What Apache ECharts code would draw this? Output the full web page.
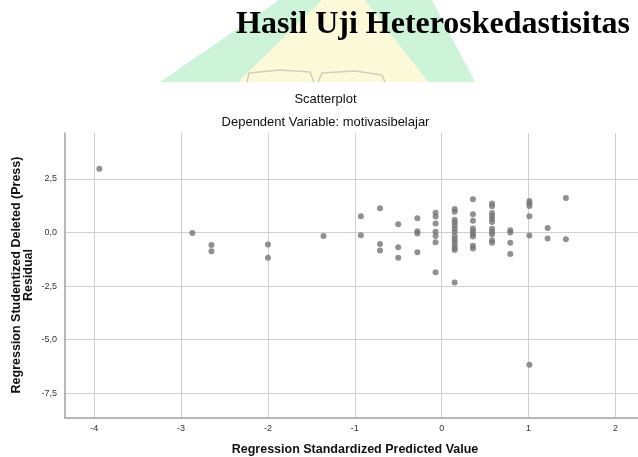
<!DOCTYPE html>
<html lang="id">
<head>
    <meta charset="UTF-8">
    <title>Hasil Uji Heteroskedastisitas</title>
    <style>
        html, body { margin: 0; padding: 0; background: #fff; }
        #chart { width: 638px; height: 457px; }
    </style>
</head>
<body>
    <div id="chart"></div>
    <script src="https://cdn.jsdelivr.net/npm/echarts@6/dist/echarts.min.js"></script>
    <script>
        // nilai prediksi terstandar (sumbu x) dan residual studentized deleted (sumbu y)
        var predicted = [
            -3.94, -2.87, -2.65, -2.65, -2.00, -2.00, -1.36,
            -0.93, -0.93, -0.71, -0.71, -0.71,
            -0.50, -0.50, -0.50,
            -0.28, -0.28, -0.28, -0.28,
            -0.07, -0.07, -0.07, -0.07, -0.07, -0.07, -0.07,
            0.15, 0.15, 0.15, 0.15, 0.15, 0.15, 0.15, 0.15, 0.15, 0.15, 0.15, 0.15, 0.15, 0.15,
            0.36, 0.36, 0.36, 0.36, 0.36, 0.36, 0.36, 0.36, 0.36,
            0.58, 0.58, 0.58, 0.58, 0.58, 0.58, 0.58, 0.58, 0.58, 0.58, 0.58,
            0.79, 0.79, 0.79, 0.79,
            1.01, 1.01, 1.01, 1.01, 1.01, 1.01,
            1.22, 1.22,
            1.43, 1.43
        ];
        var residual = [
            2.98, -0.02, -0.58, -0.88, -0.56, -1.18, -0.16,
            0.76, -0.13, 1.13, -0.54, -0.84,
            0.39, -0.69, -1.18,
            0.66, 0.06, -0.05, -0.92,
            0.92, 0.75, 0.42, 0.03, -0.16, -0.46, -1.86,
            1.10, 0.97, 0.60, 0.48, 0.34, 0.19, 0.03, -0.16, -0.31, -0.44, -0.59, -0.72, -0.82, -2.34,
            1.55, 0.85, 0.55, 0.19, 0.05, -0.08, -0.19, -0.62, -0.75,
            1.35, 1.22, 0.91, 0.77, 0.63, 0.49, 0.17, 0.03, -0.08, -0.36, -0.48,
            0.11, 0.00, -0.48, -1.00,
            1.47, 1.35, 1.24, 0.76, -0.14, -6.17,
            0.21, -0.28,
            1.61, -0.31
        ];
        var xTicks = [-4, -3, -2, -1, 0, 1, 2];
        var yTicks = [-7.5, -5, -2.5, 0, 2.5];

        var points = predicted.map(function (x, i) { return [x, residual[i]]; });

        var chart = echarts.init(document.getElementById('chart'));
        var sans = '"Liberation Sans", Arial, sans-serif';

        chart.setOption({
            animation: false,
            backgroundColor: '#fff',
            grid: { left: 65, top: 133, right: 0, bottom: 39, containLabel: false, outerBoundsMode: 'none' },
            xAxis: {
                type: 'value',
                min: -4.336,
                max: 2.26,
                axisLine: { show: true, onZero: false, lineStyle: { color: '#a0a0a0', width: 1.5 } },
                axisTick: { show: false, customValues: xTicks },
                axisLabel: {
                    customValues: xTicks,
                    margin: 6,
                    fontSize: 9,
                    color: '#333',
                    fontFamily: sans
                },
                splitLine: { show: true, lineStyle: { color: '#cfcfcf', width: 1 } }
            },
            yAxis: {
                type: 'value',
                min: -8.66,
                max: 4.645,
                axisLine: { show: true, onZero: false, lineStyle: { color: '#a0a0a0', width: 1.5 } },
                axisTick: { show: false, customValues: yTicks },
                axisLabel: {
                    customValues: yTicks,
                    margin: 8,
                    fontSize: 9,
                    color: '#333',
                    fontFamily: sans,
                    formatter: function (v) { return v.toFixed(1).replace('.', ','); }
                },
                splitLine: { show: true, lineStyle: { color: '#cfcfcf', width: 1 } }
            },
            series: [{
                type: 'scatter',
                data: points,
                symbolSize: 6,
                itemStyle: { color: '#767676' },
                silent: true
            }],
            graphic: [
                // watermark logo di belakang judul
                {
                    type: 'polygon', z: -10, silent: true,
                    shape: { points: [[160, 82], [279, 0], [432, 0], [475, 82]] },
                    style: { fill: '#cdf3d8' }
                },
                {
                    type: 'polygon', z: -9, silent: true,
                    shape: { points: [[238, 82], [322, 0], [365, 0], [428, 82]] },
                    style: { fill: '#fcf9d8' }
                },
                {
                    type: 'polyline', z: -8, silent: true,
                    shape: { points: [[247, 82], [249, 73], [280, 70], [310, 72], [314, 82]] },
                    style: { stroke: '#cfcfc0', lineWidth: 1.5, fill: null }
                },
                {
                    type: 'polyline', z: -8, silent: true,
                    shape: { points: [[318, 82], [322, 73], [355, 71], [382, 75], [385, 82]] },
                    style: { stroke: '#cfcfc0', lineWidth: 1.5, fill: null }
                },
                {
                    type: 'text', silent: true,
                    x: 236, y: 25,
                    style: {
                        text: 'Hasil Uji Heteroskedastisitas',
                        font: 'bold 32px "Liberation Serif", "Times New Roman", serif',
                        fill: '#000',
                        align: 'left',
                        verticalAlign: 'middle'
                    }
                },
                {
                    type: 'text', silent: true,
                    x: 325.5, y: 99,
                    style: {
                        text: 'Scatterplot',
                        font: '13px ' + sans,
                        fill: '#111',
                        align: 'center',
                        verticalAlign: 'middle'
                    }
                },
                {
                    type: 'text', silent: true,
                    x: 325.5, y: 122.5,
                    style: {
                        text: 'Dependent Variable: motivasibelajar',
                        font: '13px ' + sans,
                        fill: '#111',
                        align: 'center',
                        verticalAlign: 'middle'
                    }
                },
                {
                    type: 'text', silent: true,
                    x: 355, y: 450,
                    style: {
                        text: 'Regression Standardized Predicted Value',
                        font: 'bold 12.5px ' + sans,
                        fill: '#111',
                        align: 'center',
                        verticalAlign: 'middle'
                    }
                },
                {
                    type: 'text', silent: true,
                    x: 23, y: 275,
                    rotation: Math.PI / 2,
                    style: {
                        text: 'Regression Studentized Deleted (Press)\nResidual',
                        font: 'bold 12.5px ' + sans,
                        lineHeight: 12,
                        fill: '#111',
                        align: 'center',
                        verticalAlign: 'middle'
                    }
                }
            ]
        });
    </script>
</body>
</html>
